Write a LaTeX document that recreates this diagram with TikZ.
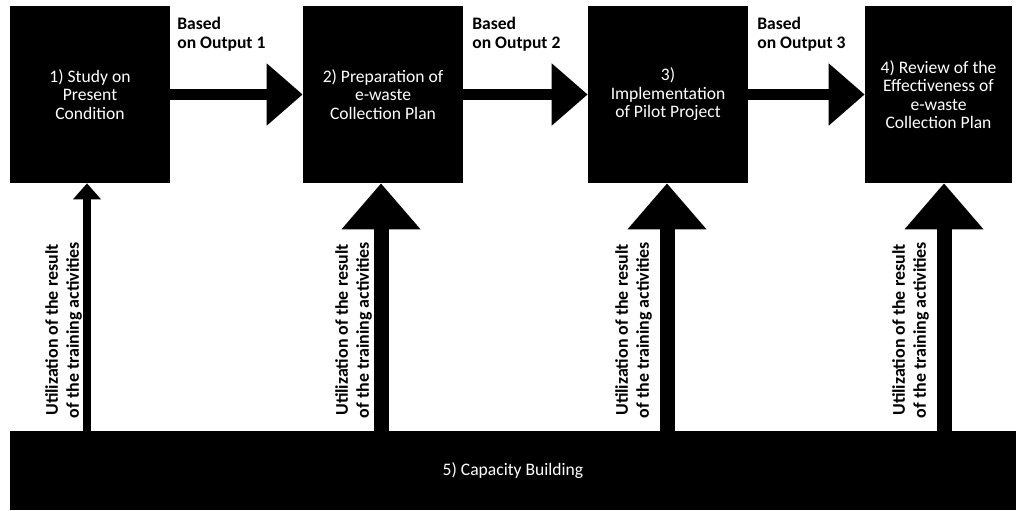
\documentclass[tikz,border=0pt]{standalone}
\usepackage{fontspec}
\setmainfont{Carlito}
\usetikzlibrary{arrows.meta}

\begin{document}
\begin{tikzpicture}[x=0.02cm, y=-0.02cm,
    stage/.style={fill=black, text=white, minimum width=3.2cm, minimum height=3.54cm,
        align=center, inner sep=2pt, font=\fontsize{10}{10.5}\selectfont},
    basis/.style={anchor=north west, align=left, inner sep=0pt, font=\bfseries\fontsize{10}{10.5}\selectfont},
    uselabel/.style={rotate=90, anchor=south, align=center, inner sep=1pt, font=\bfseries\fontsize{10.2}{12}\selectfont},
    flow/.style={line width=0.24cm, -{Triangle[length=0.72cm,width=1.2cm]}},
    feed/.style={line width=0.3cm, -{Triangle[length=0.92cm,width=1.52cm]}},
    thinfeed/.style={line width=0.16cm, -{Triangle[length=0.32cm,width=0.54cm]}}]
    \useasboundingbox (0,0) rectangle (1016,510);
    % stages
    \node [stage] (s1) at (90,94.5) {1) Study on\\Present\\Condition};
    \node [stage] (s2) at (383,94.5) {2) Preparation of\\e-waste\\Collection Plan};
    \node [stage] (s3) at (668,94.5) {3)\\Implementation\\of Pilot Project};
    \node [stage, minimum width=2.94cm] (s4) at (938.5,94.5) {4) Review of the\\Effectiveness of\\e-waste\\Collection Plan};
    \node [stage, minimum width=20.12cm, minimum height=1.58cm] (cb) at (513,470.5) {5) Capacity Building};
    % outputs passed on
    \draw [flow] (s1.east) -- (s2.west);
    \draw [flow] (s2.east) -- (s3.west);
    \draw [flow] (s3.east) -- (s4.west);
    \node [basis] (b1) at (177,17) {Based\\on Output 1};
    \node [basis] (b2) at (472,17) {Based\\on Output 2};
    \node [basis] (b3) at (757,17) {Based\\on Output 3};
    % training results
    \coordinate (u1) at (87,431);
    \coordinate (u2) at (381,431);
    \coordinate (u3) at (667,431);
    \coordinate (u4) at (944,431);
    \draw [thinfeed] (u1) -- (u1 |- s1.south);
    \draw [feed] (u2) -- (u2 |- s2.south);
    \draw [feed] (u3) -- (u3 |- s3.south);
    \draw [feed] (u4) -- (u4 |- s4.south);
    \node [uselabel] (t1) at (84,330) {Utilization of the result\\of the training activities};
    \node [uselabel] (t2) at (374,330) {Utilization of the result\\of the training activities};
    \node [uselabel] (t3) at (654,330) {Utilization of the result\\of the training activities};
    \node [uselabel] (t4) at (931,330) {Utilization of the result\\of the training activities};
\end{tikzpicture}
\end{document}
